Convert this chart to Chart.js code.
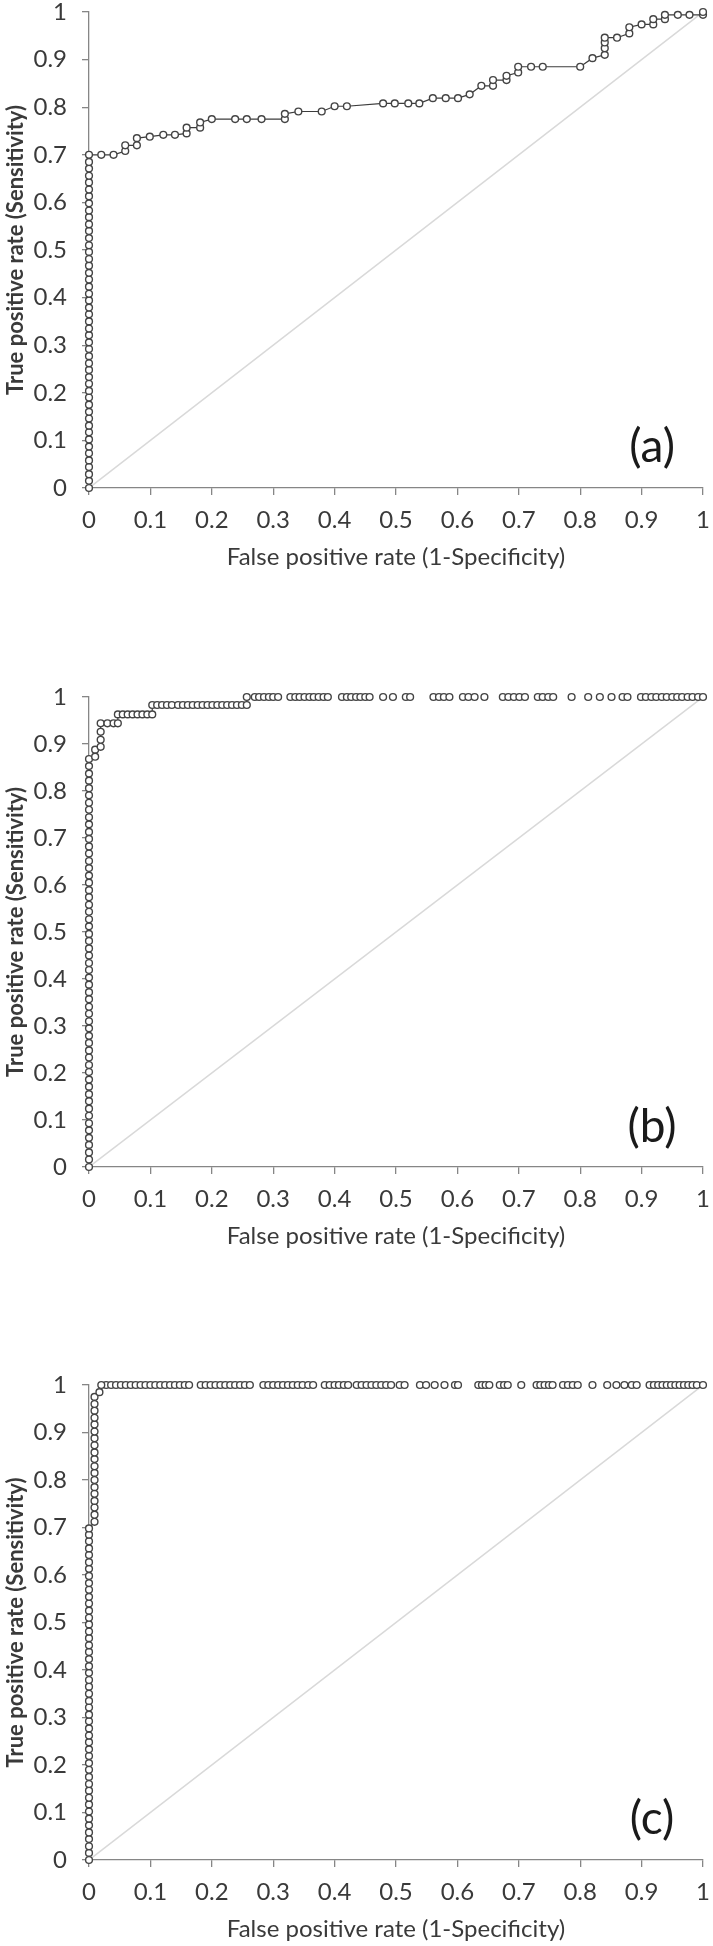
<!DOCTYPE html>
<html>
<head>
<meta charset="utf-8">
<title>Curvas ROC</title>
<script src="https://cdn.jsdelivr.net/npm/chart.js@4.4.1/dist/chart.umd.min.js"></script>
<style>
    html, body { margin: 0; padding: 0; background: #ffffff; overflow: hidden; }
    canvas { position: absolute; left: 0; }
</style>
</head>
<body>
<canvas id="grafA" width="713" height="580" style="top:0px"></canvas>
<canvas id="grafB" width="713" height="575" style="top:685px"></canvas>
<canvas id="grafC" width="713" height="573" style="top:1373px"></canvas>
<script>
// rotulos dos eixos (0 a 1, passo 0.1)
var rotulosTicks = ['0', '0.1', '0.2', '0.3', '0.4', '0.5', '0.6', '0.7', '0.8', '0.9', '1'];

// linha do acaso
var diagX = [0, 1];
var diagY = [0, 1];

// (a) - trecho vertical em x = 0, depois a escada
var eixoA = [0, 0.015, 0.029, 0.044, 0.058, 0.073, 0.087, 0.102, 0.117, 0.131, 0.146, 0.16, 0.175, 0.19, 0.204, 0.219, 0.233,
    0.248, 0.262, 0.277, 0.292, 0.306, 0.321, 0.335, 0.35, 0.365, 0.379, 0.394, 0.408, 0.423, 0.438, 0.452, 0.467, 0.481,
    0.496, 0.51, 0.525, 0.54, 0.554, 0.569, 0.583, 0.598, 0.613, 0.627, 0.642, 0.656, 0.671, 0.685, 0.70];
var fprA = [0.02, 0.04, 0.059, 0.059, 0.078, 0.078, 0.099, 0.121, 0.14, 0.159, 0.159, 0.181, 0.181, 0.2, 0.238, 0.257, 0.281,
    0.319, 0.319, 0.341, 0.379, 0.4, 0.42, 0.479, 0.498, 0.52, 0.538, 0.56, 0.581, 0.601, 0.62, 0.639, 0.658, 0.658, 0.68,
    0.68, 0.699, 0.699, 0.72, 0.739, 0.80, 0.82, 0.84, 0.84, 0.84, 0.84, 0.86, 0.88, 0.88, 0.90, 0.919, 0.919, 0.938, 0.938,
    0.959, 0.978, 1, 1];
var tprA = [0.70, 0.70, 0.708, 0.72, 0.72, 0.735, 0.738, 0.742, 0.742, 0.745, 0.757, 0.757, 0.768, 0.775, 0.775, 0.775, 0.775,
    0.775, 0.786, 0.791, 0.791, 0.802, 0.802, 0.808, 0.808, 0.808, 0.808, 0.819, 0.819, 0.819, 0.827, 0.845, 0.845, 0.857, 0.857,
    0.866, 0.873, 0.885, 0.885, 0.885, 0.885, 0.903, 0.91, 0.924, 0.936, 0.946, 0.946, 0.955, 0.968, 0.974, 0.974, 0.985, 0.985, 0.994,
    0.994, 0.994, 0.994, 1];
var topoA = [];

// (b)
var eixoB = [0, 0.016, 0.031, 0.047, 0.062, 0.078, 0.093, 0.109, 0.124, 0.14, 0.155, 0.171, 0.186, 0.202, 0.217, 0.233, 0.248,
    0.264, 0.279, 0.295, 0.31, 0.326, 0.341, 0.357, 0.372, 0.388, 0.403, 0.419, 0.434, 0.45, 0.465, 0.481, 0.496, 0.512, 0.527,
    0.543, 0.558, 0.574, 0.589, 0.605, 0.62, 0.636, 0.651, 0.667, 0.682, 0.698, 0.713, 0.729, 0.744, 0.76, 0.775, 0.791, 0.806,
    0.822, 0.837, 0.853, 0.868];
var fprB = [0.01, 0.01, 0.019, 0.019, 0.019, 0.019, 0.03, 0.04, 0.047, 0.047, 0.055, 0.063, 0.071, 0.079, 0.087, 0.095, 0.103,
    0.103, 0.111, 0.119, 0.127, 0.135, 0.145, 0.153, 0.161, 0.169, 0.177, 0.185, 0.193, 0.201, 0.209, 0.217, 0.225, 0.233, 0.241,
    0.249, 0.257, 0.257];
var tprB = [0.873, 0.888, 0.894, 0.909, 0.926, 0.944, 0.944, 0.944, 0.944, 0.963, 0.963, 0.963, 0.963, 0.963, 0.963, 0.963, 0.963,
    0.983, 0.983, 0.983, 0.983, 0.983, 0.983, 0.983, 0.983, 0.983, 0.983, 0.983, 0.983, 0.983, 0.983, 0.983, 0.983, 0.983, 0.983,
    0.983, 0.983, 1];
// pontos soltos em y = 1 (sem linha)
var topoB = [0.27, 0.277, 0.285, 0.293, 0.3, 0.308, 0.328, 0.336, 0.343, 0.351, 0.359, 0.366, 0.374, 0.382, 0.389, 0.412, 0.42,
    0.427, 0.435, 0.442, 0.45, 0.457, 0.479, 0.495, 0.516, 0.523, 0.561, 0.57, 0.578, 0.587, 0.609, 0.618, 0.628, 0.644, 0.674,
    0.683, 0.692, 0.701, 0.71, 0.731, 0.739, 0.748, 0.756, 0.786, 0.813, 0.832, 0.851, 0.869, 0.877, 0.899, 0.907, 0.916, 0.924,
    0.933, 0.941, 0.95, 0.958, 0.966, 0.975, 0.983, 0.992, 1];

// (c)
var eixoC = [0, 0.015, 0.029, 0.044, 0.058, 0.073, 0.087, 0.102, 0.117, 0.131, 0.146, 0.16, 0.175, 0.19, 0.204, 0.219, 0.233,
    0.248, 0.262, 0.277, 0.292, 0.306, 0.321, 0.335, 0.35, 0.365, 0.379, 0.394, 0.408, 0.423, 0.438, 0.452, 0.467, 0.481,
    0.496, 0.51, 0.525, 0.54, 0.554, 0.569, 0.583, 0.598, 0.613, 0.627, 0.642, 0.656, 0.671, 0.685, 0.698];
var fprC = [0.009, 0.009, 0.009, 0.009, 0.009, 0.009, 0.009, 0.009, 0.009, 0.009, 0.009, 0.009, 0.009, 0.009, 0.009, 0.009,
    0.009, 0.009, 0.009, 0.017, 0.02];
var tprC = [0.712, 0.727, 0.742, 0.756, 0.771, 0.785, 0.8, 0.815, 0.829, 0.844, 0.858, 0.873, 0.888, 0.902, 0.917, 0.931,
    0.946, 0.96, 0.975, 0.985, 1];
var topoC = [0.028, 0.036, 0.044, 0.052, 0.06, 0.068, 0.076, 0.084, 0.092, 0.1, 0.108, 0.116, 0.124, 0.132, 0.14, 0.148, 0.156,
    0.163, 0.182, 0.19, 0.198, 0.206, 0.214, 0.222, 0.23, 0.238, 0.246, 0.254, 0.262, 0.284, 0.292, 0.3, 0.308, 0.316, 0.324,
    0.332, 0.34, 0.348, 0.357, 0.365, 0.384, 0.392, 0.4, 0.407, 0.415, 0.422, 0.436, 0.444, 0.452, 0.46, 0.468, 0.476, 0.484,
    0.492, 0.506, 0.514, 0.539, 0.549, 0.563, 0.579, 0.596, 0.601, 0.634, 0.64, 0.646, 0.652, 0.669, 0.676, 0.682, 0.704, 0.729,
    0.735, 0.742, 0.749, 0.755, 0.772, 0.78, 0.788, 0.796, 0.82, 0.844, 0.859, 0.872, 0.884, 0.892, 0.913, 0.92, 0.927, 0.934,
    0.941, 0.948, 0.955, 0.962, 0.969, 0.976, 0.983, 0.99, 1];

Chart.defaults.font.family = 'Lato';

var corTexto = '#3a3a3a',
    corEixo = '#868686',
    fonteTick = 24,
    fonteTitulo = 24;

// rotulo (a), (b), (c) no canto inferior direito
var rotuloPainel = {
    id: 'rotuloPainel',
    afterDraw: function (chart, args, opts) {
        var c = chart.ctx;
        c.save();
        c.font = '46px Lato';
        c.fillStyle = '#1a1a1a';
        c.textAlign = 'center';
        c.textBaseline = 'middle';
        c.fillText(opts.texto, chart.scales.x.getPixelForValue(opts.x), chart.scales.y.getPixelForValue(opts.y));
        c.restore();
    }
};

function montarGrafico(id, eixo, fpr, tpr, topo, rotulo, alturaPlot) {
    var canvas = document.getElementById(id),
        alturaX = canvas.height - 12 - alturaPlot,
        padTitulo = alturaX - 69 - fonteTitulo * 1.2 / 2,
        curva = [], soltos = [], diag = [];

    for (var i = 0; i < eixo.length; i++) {
        curva.push({ x: 0, y: eixo[i] });
    }
    for (var j = 0; j < fpr.length; j++) {
        curva.push({ x: fpr[j], y: tpr[j] });
    }
    for (var k = 0; k < topo.length; k++) {
        soltos.push({ x: topo[k], y: 1 });
    }
    for (var d = 0; d < diagX.length; d++) {
        diag.push({ x: diagX[d], y: diagY[d] });
    }

    var marcador = {
        pointRadius: 3.4,
        pointBorderWidth: 1.4,
        pointBackgroundColor: '#ffffff',
        pointBorderColor: '#444444',
        pointHoverRadius: 3.4
    };

    return new Chart(canvas.getContext('2d'), {
        type: 'scatter',
        data: {
            datasets: [
                Object.assign({ label: 'ROC', data: curva, showLine: true, borderColor: '#3c3c3c', borderWidth: 1.2, clip: false, order: 1 }, marcador),
                Object.assign({ label: 'ROC (y=1)', data: soltos, showLine: false, clip: false, order: 1 }, marcador),
                { label: 'Acaso', data: diag, showLine: true, borderColor: '#d9d9d9', borderWidth: 1.5, pointRadius: 0, order: 2 }
            ]
        },
        options: {
            responsive: false,
            animation: false,
            events: [],
            layout: { padding: { top: 12, right: 10, bottom: 0, left: 0 } },
            plugins: {
                legend: { display: false },
                tooltip: { enabled: false },
                rotuloPainel: { texto: rotulo, x: 0.917, y: 0.085 }
            },
            scales: {
                x: {
                    type: 'linear',
                    min: 0,
                    max: 1,
                    ticks: {
                        stepSize: 0.1,
                        autoSkip: false,
                        maxRotation: 0,
                        padding: 11,
                        color: corTexto,
                        font: { size: fonteTick },
                        callback: function (v, i) { return rotulosTicks[i]; }
                    },
                    grid: { drawOnChartArea: false, drawTicks: true, tickLength: 7, color: corEixo, lineWidth: 1.3 },
                    border: { display: true, color: corEixo, width: 1.3 },
                    title: {
                        display: true,
                        text: 'False positive rate (1-Specificity)',
                        color: corTexto,
                        font: { size: fonteTitulo },
                        padding: { top: 0, bottom: padTitulo }
                    },
                    afterFit: function (s) {
                        s.height = alturaX;
                        s.paddingLeft = 0;
                        s.paddingRight = 0;
                    }
                },
                y: {
                    type: 'linear',
                    min: 0,
                    max: 1,
                    ticks: {
                        stepSize: 0.1,
                        autoSkip: false,
                        padding: 15,
                        color: corTexto,
                        font: { size: fonteTick },
                        callback: function (v, i) { return rotulosTicks[i]; }
                    },
                    grid: { drawOnChartArea: false, drawTicks: true, tickLength: 7, color: corEixo, lineWidth: 1.3 },
                    border: { display: true, color: corEixo, width: 1.3 },
                    title: {
                        display: true,
                        text: 'True positive rate (Sensitivity)',
                        color: corTexto,
                        font: { size: 22, weight: 'bold' },
                        padding: { top: 3, bottom: 0 }
                    },
                    afterFit: function (s) {
                        s.width = 89;
                        s.paddingTop = 0;
                        s.paddingBottom = 0;
                    }
                }
            }
        },
        plugins: [rotuloPainel]
    });
}

montarGrafico('grafA', eixoA, fprA, tprA, topoA, '(a)', 476);
montarGrafico('grafB', eixoB, fprB, tprB, topoB, '(b)', 470);
montarGrafico('grafC', eixoC, fprC, tprC, topoC, '(c)', 475);
</script>
</body>
</html>
